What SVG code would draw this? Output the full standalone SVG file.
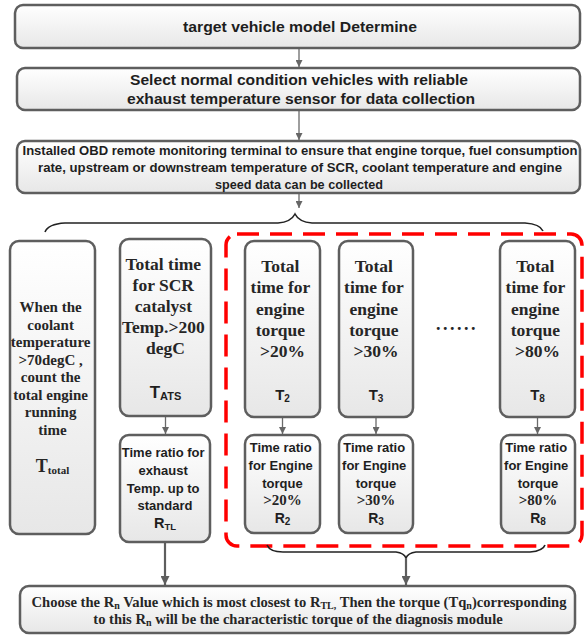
<svg xmlns="http://www.w3.org/2000/svg" width="584" height="636" viewBox="0 0 584 636">
<defs>
<linearGradient id="g" x1="0" y1="0" x2="0" y2="1"><stop offset="0" stop-color="#ffffff"/><stop offset="1" stop-color="#e7e7e7"/></linearGradient>
<marker id="ah" viewBox="0 0 10 10" refX="10" refY="5" markerWidth="7" markerHeight="7" orient="auto" markerUnits="userSpaceOnUse"><path d="M0,0 L10,5 L0,10 z" fill="#666"/></marker>
<marker id="ahb" viewBox="0 0 10 10" refX="10" refY="5" markerWidth="9" markerHeight="9" orient="auto" markerUnits="userSpaceOnUse"><path d="M0,0 L10,5 L0,10 z" fill="#5e5e5e"/></marker>
</defs>
<style>
.box{fill:url(#g);stroke:#5e5e5e;stroke-width:2.5}
.s{font-family:"Liberation Sans",Arial,sans-serif;font-weight:bold;fill:#1e1e1e;text-anchor:middle}
.r{font-family:"Liberation Serif","Times New Roman",serif;font-weight:bold;fill:#262626;text-anchor:middle}
.c{stroke:#6a6a6a;stroke-width:1.3;fill:none;marker-end:url(#ah)}
.cb{stroke:#5e5e5e;stroke-width:2.2;fill:none;marker-end:url(#ahb)}
.brace{stroke:#222;stroke-width:1.6;fill:none}
.red{fill:none;stroke:#ff0000;stroke-width:3.5;stroke-dasharray:22 11}
</style>

<rect class="red" x="226" y="234" width="356" height="312" rx="11"/>

<g id="connectors">
<line class="c" x1="299" y1="48" x2="299" y2="67"/>
<line class="c" x1="299" y1="110" x2="299" y2="140"/>
<line class="c" x1="299" y1="193" x2="299" y2="208"/>
<path class="brace" d="M45,232 Q48,224 65,223 L278,223 Q291,222 295,214 Q299,222 312,223 L525,223 Q540,224 543,231"/>
<line class="c" x1="165.5" y1="416" x2="165.5" y2="434"/>
<line class="c" x1="282.5" y1="417" x2="282.5" y2="434"/>
<line class="c" x1="376" y1="417" x2="376" y2="434"/>
<line class="c" x1="537.5" y1="417" x2="537.5" y2="434"/>
<line class="cb" x1="165" y1="542" x2="165" y2="585"/>
<path class="brace" d="M267,545 Q270,552 283,552 L396,552 Q404,553 406,558 Q408,553 416,552 L530,552 Q543,551 545,545"/>
<line class="cb" x1="406" y1="558" x2="406" y2="585"/>
</g>

<g id="n1">
<rect class="box" x="15" y="5" width="565" height="43" rx="8"/>
<text class="s" x="300" y="32" font-size="15" textLength="234" lengthAdjust="spacingAndGlyphs">target vehicle model Determine</text>
</g>

<g id="n2">
<rect class="box" x="17" y="68" width="563" height="42" rx="8"/>
<text class="s" x="299" y="85" font-size="14.5" textLength="338" lengthAdjust="spacingAndGlyphs">Select normal  condition vehicles with reliable</text>
<text class="s" x="301" y="104" font-size="14.5" textLength="348" lengthAdjust="spacingAndGlyphs">exhaust temperature sensor  for data collection</text>
</g>

<g id="n3">
<rect class="box" x="17" y="141" width="563" height="52" rx="8"/>
<text class="s" x="300" y="155" font-size="13" textLength="555" lengthAdjust="spacingAndGlyphs">Installed OBD remote monitoring terminal to ensure that engine torque, fuel consumption</text>
<text class="s" x="300" y="172" font-size="13" textLength="524" lengthAdjust="spacingAndGlyphs">rate,   upstream or downstream temperature of SCR, coolant temperature and engine</text>
<text class="s" x="299" y="189" font-size="13" textLength="168" lengthAdjust="spacingAndGlyphs">speed data can be collected</text>
</g>

<g id="n_total">
<rect class="box" x="10" y="241" width="85" height="293" rx="9"/>
<text class="r" font-size="15">
<tspan x="52.5" y="312">When the</tspan>
<tspan x="52.5" y="329.5">coolant</tspan>
<tspan x="52.5" y="347">temperature</tspan>
<tspan x="52.5" y="364.5">&gt;70degC ,</tspan>
<tspan x="52.5" y="382">count the</tspan>
<tspan x="52.5" y="399.5">total engine</tspan>
<tspan x="52.5" y="417">running</tspan>
<tspan x="52.5" y="434.5">time</tspan>
</text>
<text class="r" x="52.5" y="472" font-size="18">T<tspan font-size="11" dy="2">total</tspan></text>
</g>

<g id="n_ats">
<rect class="box" x="120" y="239" width="91" height="177" rx="9"/>
<text class="r" font-size="17.5">
<tspan x="165.5" y="270">Total time</tspan>
<tspan x="165.5" y="291">for SCR</tspan>
<tspan x="165.5" y="312">catalyst</tspan>
<tspan x="165.5" y="333">Temp.&gt;200</tspan>
<tspan x="165.5" y="354">degC</tspan>
</text>
<text class="s" x="165.5" y="398" font-size="17">T<tspan font-size="11" dy="2">ATS</tspan></text>
</g>

<g id="n_rtl">
<rect class="box" x="120" y="435" width="90" height="107" rx="9"/>
<text class="s" font-size="13">
<tspan x="165" y="457">Time ratio for</tspan>
<tspan x="165" y="475">exhaust</tspan>
<tspan x="165" y="493">Temp. up to</tspan>
<tspan x="165" y="510">standard</tspan>
</text>
<text class="s" x="165" y="528" font-size="14.5">R<tspan font-size="9.5" dy="2">TL</tspan></text>
</g>

<g id="n_t2">
<rect class="box" x="245" y="241" width="75" height="176" rx="9"/>
<text class="r" font-size="17.5">
<tspan x="282.5" y="272">Total</tspan>
<tspan x="282.5" y="293">time for</tspan>
<tspan x="282.5" y="315">engine</tspan>
<tspan x="282.5" y="336">torque</tspan>
<tspan x="282.5" y="357">&gt;20%</tspan>
</text>
<text class="s" x="282.5" y="400" font-size="15">T<tspan font-size="10" dy="2">2</tspan></text>
</g>

<g id="n_t3">
<rect class="box" x="339" y="241" width="74" height="176" rx="9"/>
<text class="r" font-size="17.5">
<tspan x="376" y="272">Total</tspan>
<tspan x="376" y="293">time for</tspan>
<tspan x="376" y="315">engine</tspan>
<tspan x="376" y="336">torque</tspan>
<tspan x="376" y="357">&gt;30%</tspan>
</text>
<text class="s" x="376" y="400" font-size="15">T<tspan font-size="10" dy="2">3</tspan></text>
</g>

<text class="r" x="457" y="330" font-size="18" letter-spacing="2.5">......</text>

<g id="n_t8">
<rect class="box" x="500" y="241" width="75" height="176" rx="9"/>
<text class="r" font-size="17.5">
<tspan x="537.5" y="272">Total</tspan>
<tspan x="537.5" y="293">time for</tspan>
<tspan x="537.5" y="315">engine</tspan>
<tspan x="537.5" y="336">torque</tspan>
<tspan x="537.5" y="357">&gt;80%</tspan>
</text>
<text class="s" x="537.5" y="400" font-size="15">T<tspan font-size="10" dy="2">8</tspan></text>
</g>

<g id="n_r2">
<rect class="box" x="245" y="435" width="75" height="98" rx="9"/>
<text class="s" font-size="13">
<tspan x="282.5" y="452">Time ratio</tspan>
<tspan x="282.5" y="470">for Engine</tspan>
<tspan x="282.5" y="488">torque</tspan>
</text>
<text class="r" x="282.5" y="505" font-size="15">&gt;20%</text>
<text class="s" x="282.5" y="523" font-size="14">R<tspan font-size="10" dy="2">2</tspan></text>
</g>

<g id="n_r3">
<rect class="box" x="339" y="435" width="74" height="98" rx="9"/>
<text class="s" font-size="13">
<tspan x="376" y="452">Time ratio</tspan>
<tspan x="376" y="470">for Engine</tspan>
<tspan x="376" y="488">torque</tspan>
</text>
<text class="r" x="376" y="505" font-size="15">&gt;30%</text>
<text class="s" x="376" y="523" font-size="14">R<tspan font-size="10" dy="2">3</tspan></text>
</g>

<g id="n_r8">
<rect class="box" x="501" y="435" width="74" height="98" rx="9"/>
<text class="s" font-size="13">
<tspan x="538" y="452">Time ratio</tspan>
<tspan x="538" y="470">for Engine</tspan>
<tspan x="538" y="488">torque</tspan>
</text>
<text class="r" x="538" y="505" font-size="15">&gt;80%</text>
<text class="s" x="538" y="523" font-size="14">R<tspan font-size="10" dy="2">8</tspan></text>
</g>

<g id="n_final">
<rect class="box" x="20" y="586" width="555" height="47" rx="9"/>
<text class="r" x="299" y="607" font-size="14.6">Choose the R<tspan font-size="10" dy="2">n</tspan><tspan dy="-2"> Value which is most closest to R</tspan><tspan font-size="10" dy="2">TL,</tspan><tspan dy="-2"> Then the torque (Tq</tspan><tspan font-size="10" dy="2">n</tspan><tspan dy="-2">)corresponding</tspan></text>
<text class="r" x="298" y="624" font-size="14.6">to this R<tspan font-size="10" dy="2">n</tspan><tspan dy="-2"> will be  the characteristic torque of the diagnosis module</tspan></text>
</g>
</svg>
